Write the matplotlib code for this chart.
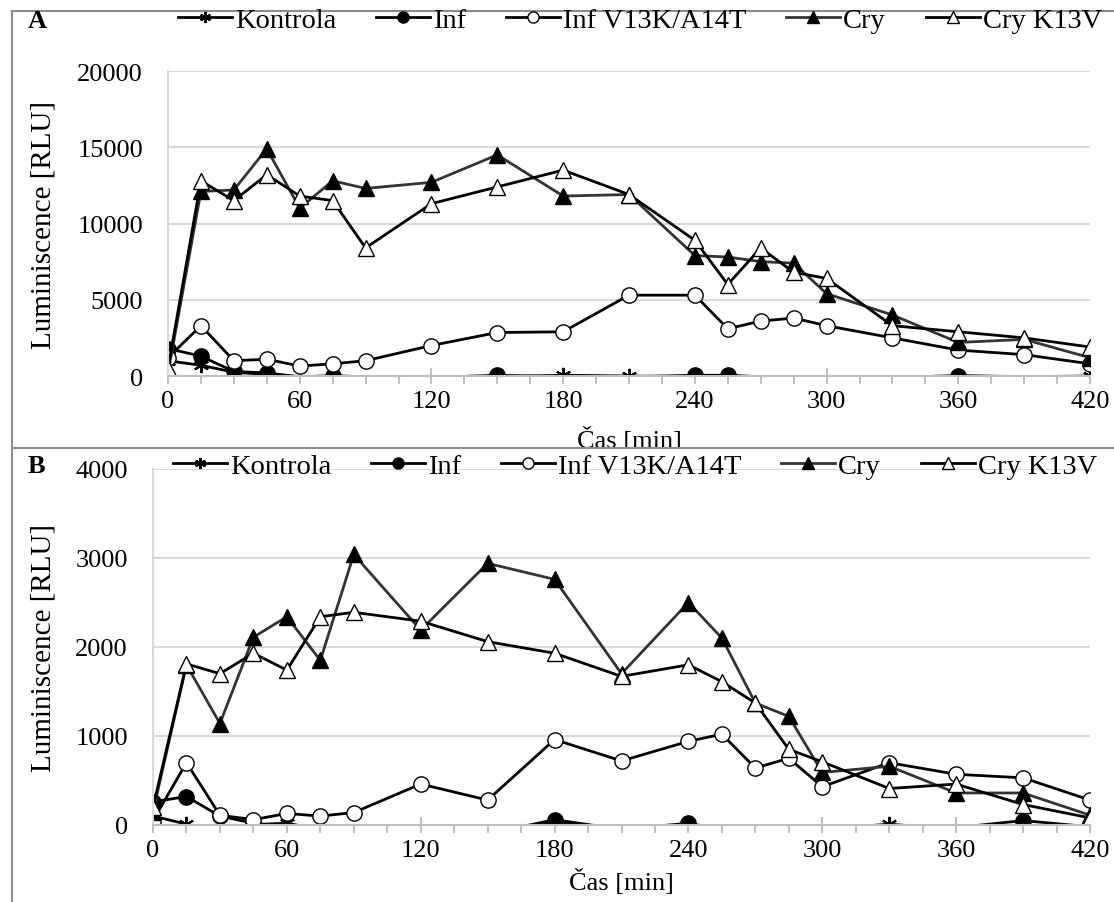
import numpy as np
import matplotlib
matplotlib.use("Agg")
import matplotlib.pyplot as plt
from matplotlib.lines import Line2D
from matplotlib.patches import Rectangle

plt.rcParams['font.family'] = ['Liberation Serif', 'DejaVu Serif']
plt.rcParams['font.size'] = 19

# ==============================================================================
#       Data
# ==============================================================================
cas = [0, 15, 30, 45, 60, 75, 90, 120, 150, 180, 210, 240, 255, 270, 285, 300, 330, 360, 390, 420]
labels = ['Kontrola', 'Inf', 'Inf V13K/A14T', 'Cry', 'Cry K13V']

# panel A
kontrola_a = [1000, 700, 250, 100, -50, -80, -100, -100, -50, 50, 0, -50, -50, -80, -100, -100, -100, -50, -50, 0]
inf_a = [1800, 1300, 300, 200, -50, 20, -50, -100, 50, -50, -50, 50, 50, -50, -80, -100, -100, 30, -50, -30]
infmut_a = [1200, 3300, 1000, 1100, 650, 800, 1000, 2000, 2850, 2900, 5300, 5300, 3100, 3600, 3800, 3300, 2500, 1700, 1400, 800]
cry_a = [200, 12100, 12200, 14900, 11000, 12800, 12300, 12700, 14500, 11800, 11900, 7900, 7800, 7500, 7400, 5400, 4000, 2200, 2400, 1200]
crymut_a = [500, 12800, 11500, 13200, 11800, 11500, 8400, 11300, 12400, 13500, 11900, 8900, 6000, 8400, 6800, 6400, 3300, 2900, 2500, 1900]

# panel B
kontrola_b = [100, 10, -100, 5, 20, -50, -100, -150, -100, 30, -50, 0, -50, -100, -30, -50, 10, -50, -30, 0]
inf_b = [260, 320, 100, 20, -50, -100, -150, -150, -100, 60, -50, 20, -50, -100, -50, -50, -30, -30, 50, -20]
infmut_b = [50, 700, 110, 60, 130, 100, 140, 460, 280, 960, 720, 940, 1020, 640, 750, 430, 700, 570, 530, 280]
cry_b = [150, 1800, 1140, 2110, 2340, 1850, 3040, 2190, 2940, 2760, 1700, 2500, 2100, 1370, 1220, 590, 660, 360, 360, 110]
crymut_b = [200, 1810, 1700, 1930, 1740, 2340, 2390, 2290, 2060, 1930, 1670, 1800, 1610, 1370, 850, 710, 410, 460, 230, 80]

# marker / line style per series
styles = [
    dict(marker=(6, 2, 0), mfc='black', color='black', mew=1.5),
    dict(marker='o', mfc='black', color='black'),
    dict(marker='o', mfc='white', color='black'),
    dict(marker='^', mfc='black', color='#333333'),
    dict(marker='^', mfc='white', color='black'),
]

W, H = 1114, 903
fig = plt.figure(figsize=(W / 100, H / 100), dpi=100)


def box(l, t, r, b):
    return [l / W, 1 - b / H, (r - l) / W, (b - t) / H]


def panel(ax, series, ymax, ystep, letter, top, bottom, left, leg_x, leg_y, ly):
    for y, st, lab in zip(series, styles, labels):
        y = np.array(y, dtype=float)
        mask = list(y >= 0)
        ax.plot(cas, y, lw=2.0, ms=11, mec='black', markevery=mask, label=lab, **st)
    ax.set_xlim(0, 420)
    ax.set_ylim(0, ymax)
    ax.set_xticks(np.arange(0, 421, 60))
    ax.set_xticks(np.arange(0, 421, 15), minor=True)
    ax.set_yticks(np.arange(0, ymax + 1, ystep))
    ax.yaxis.grid(True, color='#d9d9d9', lw=1.5)
    ax.set_axisbelow(True)
    for s in ['top', 'right']:
        ax.spines[s].set_visible(False)
    ax.spines['left'].set_color('#d9d9d9')
    ax.spines['bottom'].set_color('#bfbfbf')
    ax.spines['left'].set_linewidth(1.5)
    ax.spines['bottom'].set_linewidth(1.5)
    ax.tick_params(axis='y', length=0, pad=18)
    ax.tick_params(axis='x', which='major', direction='inout', length=12, color='#bfbfbf', width=1.5, pad=4)
    ax.tick_params(axis='x', which='minor', direction='out', length=6, color='#bfbfbf', width=1.5)
    ax.set_ylabel('Luminiscence [RLU]', fontsize=21)
    ax.set_xlabel('Čas [min]')
    h = bottom - top
    w = 1090 - left
    ax.yaxis.set_label_coords((57 - left) / w, 0.5)
    ax.xaxis.set_label_coords(0.5, -(ly - bottom) / h)
    handles = [Line2D([], [], lw=2, mec='black', ms=8, **st) for st in styles]
    fig.legend(handles, labels, loc='center', bbox_to_anchor=(leg_x / W, 1 - leg_y / H), ncol=5,
               frameon=False, handlelength=1.9, handletextpad=0.1, columnspacing=1.4,
               borderaxespad=0, borderpad=0, fontsize=20.5)
    fig.text(28 / W, 1 - leg_y / H, letter, fontweight='bold', fontsize=19, va='center')


axA = fig.add_axes(box(168, 72, 1090, 377))
panel(axA, [kontrola_a, inf_a, infmut_a, cry_a, crymut_a], 20000, 5000, 'A', 72, 377, 168, 640, 21, 427)

# white sheet of panel B hides the bottom of panel A's axis title
fig.add_artist(Rectangle((12 / W, 0), 1, 1 - 449 / H, transform=fig.transFigure,
                         facecolor='white', edgecolor='none', zorder=0.5))

axB = fig.add_axes(box(153, 470, 1090, 826))
axB.set_zorder(1)
axB.patch.set_alpha(0)
panel(axB, [kontrola_b, inf_b, infmut_b, cry_b, crymut_b], 4000, 1000, 'B', 470, 826, 153, 635, 467, 869)

# panel borders
for (x0, y0, x1, y1) in [(12, 12, W, 12), (12, 12, 12, H), (12, 449, W, 449)]:
    fig.add_artist(Line2D([x0 / W, x1 / W], [1 - y0 / H, 1 - y1 / H], color='#8c8c8c', lw=1.5, zorder=3))

fig.savefig('out.png', dpi=100)
